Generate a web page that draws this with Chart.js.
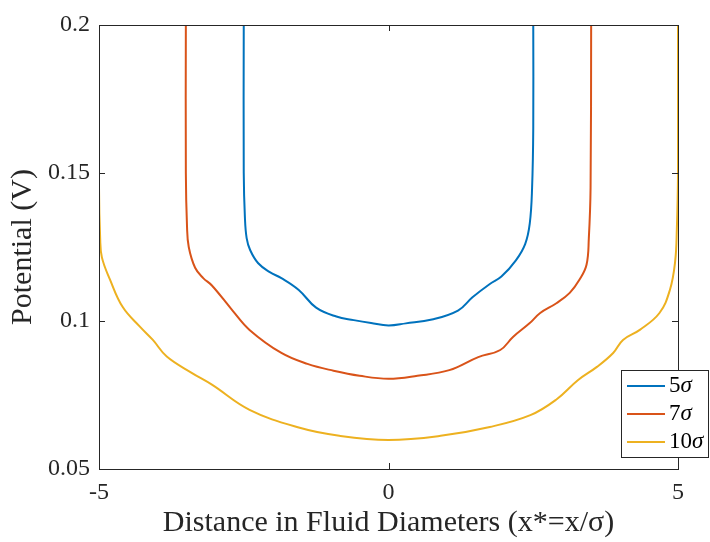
<!DOCTYPE html>
<html>
<head>
<meta charset="utf-8">
<script src="https://cdn.jsdelivr.net/npm/chart.js@4"></script>
<style>
  html, body { margin: 0; padding: 0; background: #fff; }
  #wrap { width: 710px; height: 542px; }
</style>
</head>
<body>
<div id="wrap"><canvas id="potChart"></canvas></div>
<script>
// 5 sigma
const x5 = [-2.5, -2.5, -2.48, -2.45, -2.39, -2.25, -2.05, -1.85, -1.55, -1.25, -0.9, -0.6, -0.3, 0, 0.3, 0.75, 1.2, 1.45, 1.75, 1.95, 2.2, 2.36, 2.44, 2.48, 2.5, 2.5];
const y5 = [0.2, 0.15, 0.135, 0.128, 0.124, 0.1195, 0.1165, 0.1145, 0.1105, 0.1045, 0.1015, 0.1003, 0.0993, 0.0985, 0.0992, 0.1005, 0.1035, 0.108, 0.1125, 0.115, 0.1205, 0.126, 0.133, 0.145, 0.165, 0.2];
// 7 sigma
const x7 = [-3.5, -3.5, -3.48, -3.45, -3.34, -3.2, -3.05, -2.7, -2.4, -1.85, -1.4, -0.95, -0.5, 0, 0.5, 1.05, 1.55, 1.93, 2.15, 2.44, 2.62, 2.9, 3.13, 3.3, 3.42, 3.46, 3.49, 3.5];
const y7 = [0.2, 0.15, 0.132, 0.125, 0.118, 0.1145, 0.112, 0.1037, 0.097, 0.0892, 0.0855, 0.0832, 0.0815, 0.0805, 0.0815, 0.0834, 0.0878, 0.0902, 0.0946, 0.0993, 0.1027, 0.106, 0.1095, 0.114, 0.119, 0.128, 0.145, 0.2];
// 10 sigma
const x10 = [-5, -5, -4.98, -4.95, -4.81, -4.59, -4.29, -4.07, -3.83, -3.4, -3.05, -2.4, -1.55, -0.85, 0, 0.9, 1.75, 2.45, 2.9, 3.27, 3.6, 3.88, 4.05, 4.34, 4.68, 4.86, 4.95, 4.98, 5, 5];
const y10 = [0.2, 0.145, 0.128, 0.1215, 0.114, 0.1047, 0.098, 0.0936, 0.088, 0.0825, 0.0785, 0.07, 0.064, 0.0612, 0.0598, 0.0612, 0.0642, 0.0682, 0.0735, 0.08, 0.0845, 0.0892, 0.0936, 0.097, 0.1027, 0.1105, 0.12, 0.131, 0.15, 0.2];

const seriesLabels = ['5', '7', '10'];
const seriesColors = ['#0072BD', '#D95319', '#EDB120'];
const xTicks = [-5, 0, 5];
const yTicks = [0.05, 0.1, 0.15, 0.2];

const pts = (xs, ys) => xs.map((x, i) => ({ x: x, y: ys[i] }));
const allX = [x5, x7, x10];
const allY = [y5, y7, y10];

const axisColor = '#262626';
const serif = '"Liberation Serif", "Times New Roman", serif';

// box, inward ticks and the legend drawn matlab style
const framePlugin = {
    id: 'frame',
    afterDraw(chart) {
        const ctx = chart.ctx;
        const a = chart.chartArea;
        const sx = chart.scales.x, sy = chart.scales.y;
        ctx.save();
        ctx.strokeStyle = axisColor;
        ctx.lineWidth = 1;
        ctx.strokeRect(Math.round(a.left) + 0.5, Math.round(a.top) + 0.5,
            Math.round(a.right - a.left), Math.round(a.bottom - a.top));
        const tl = 6;
        ctx.beginPath();
        xTicks.forEach(v => {
            const px = Math.round(sx.getPixelForValue(v)) + 0.5;
            ctx.moveTo(px, a.bottom); ctx.lineTo(px, a.bottom - tl);
            ctx.moveTo(px, a.top); ctx.lineTo(px, a.top + tl);
        });
        yTicks.forEach(v => {
            const py = Math.round(sy.getPixelForValue(v)) + 0.5;
            ctx.moveTo(a.left, py); ctx.lineTo(a.left + tl, py);
            ctx.moveTo(a.right, py); ctx.lineTo(a.right - tl, py);
        });
        ctx.stroke();

        // legend
        const lx = 621, ly = 370, lw = 87, lh = 87;
        ctx.fillStyle = '#fff';
        ctx.fillRect(lx, ly, lw, lh);
        ctx.strokeStyle = axisColor;
        ctx.strokeRect(lx + 0.5, ly + 0.5, lw, lh);
        const rows = [386, 414, 442];
        seriesLabels.forEach((lab, i) => {
            const y = rows[i];
            ctx.strokeStyle = seriesColors[i];
            ctx.lineWidth = 2;
            ctx.beginPath();
            ctx.moveTo(627, y); ctx.lineTo(665, y);
            ctx.stroke();
            ctx.fillStyle = '#000';
            ctx.textBaseline = 'middle';
            ctx.font = '23px ' + serif;
            ctx.fillText(lab, 669, y);
            const w = ctx.measureText(lab).width;
            ctx.font = 'italic 23px ' + serif;
            ctx.fillText('σ', 669 + w, y);
        });
        ctx.restore();
    }
};

new Chart(document.getElementById('potChart'), {
    type: 'line',
    data: {
        datasets: seriesLabels.map((lab, i) => ({
            label: lab + 'σ',
            data: pts(allX[i], allY[i]),
            borderColor: seriesColors[i],
            backgroundColor: seriesColors[i],
            borderWidth: 2,
            pointRadius: 0,
            tension: 0.4,
            fill: false
        }))
    },
    options: {
        responsive: true,
        maintainAspectRatio: false,
        animation: false,
        layout: { padding: { top: 25, right: 32, left: 0, bottom: 0 } },
        plugins: {
            legend: { display: false },
            tooltip: { enabled: false }
        },
        scales: {
            x: {
                type: 'linear',
                min: -5,
                max: 5,
                afterFit(scale) { scale.height = 73; },
                afterBuildTicks(scale) { scale.ticks = xTicks.map(v => ({ value: v })); },
                ticks: {
                    color: axisColor,
                    font: { family: serif, size: 24 },
                    padding: 9,
                    maxRotation: 0
                },
                grid: { display: false, drawTicks: false },
                border: { display: false },
                title: {
                    display: true,
                    text: 'Distance in Fluid Diameters (x*=x/σ)',
                    color: axisColor,
                    font: { family: serif, size: 30 },
                    padding: { top: 0, bottom: 1 }
                }
            },
            y: {
                min: 0.05,
                max: 0.2,
                afterFit(scale) { scale.width = 99; },
                afterBuildTicks(scale) { scale.ticks = yTicks.map(v => ({ value: v })); },
                ticks: {
                    color: axisColor,
                    font: { family: serif, size: 24 },
                    padding: 9,
                    callback: v => String(+v.toFixed(2))
                },
                grid: { display: false, drawTicks: false },
                border: { display: false },
                title: {
                    display: true,
                    text: 'Potential (V)',
                    color: axisColor,
                    font: { family: serif, size: 30 },
                    padding: { top: 5, bottom: 0 }
                }
            }
        }
    },
    plugins: [framePlugin]
});
</script>
</body>
</html>
